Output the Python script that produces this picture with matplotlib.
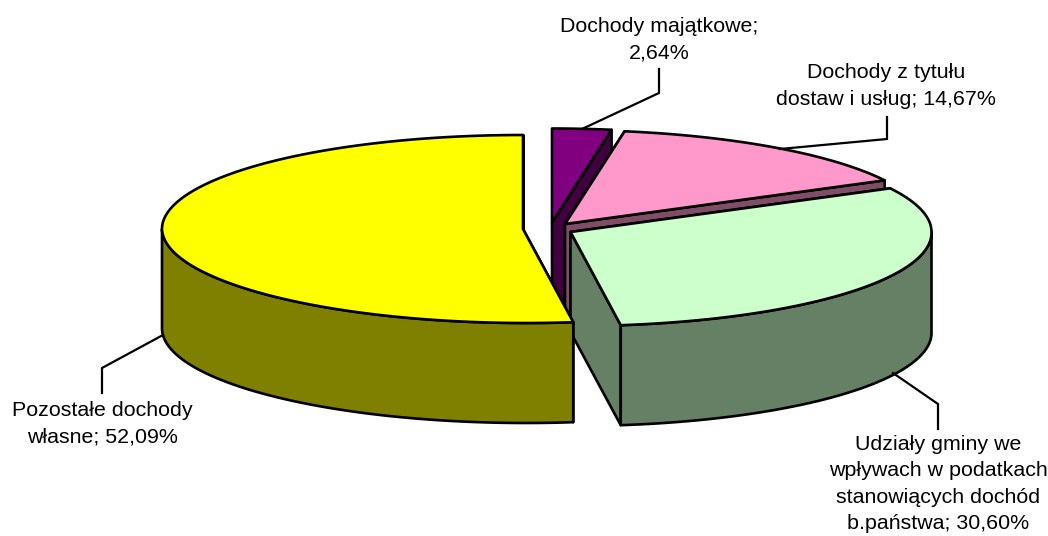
import numpy as np
import matplotlib
matplotlib.use('Agg')
import matplotlib.pyplot as plt
from matplotlib.patches import Polygon

plt.rcParams['font.family'] = ['Liberation Sans', 'DejaVu Sans']

# udzial procentowy, zgodnie z ruchem wskazowek od godziny 12
categories = ['Dochody majątkowe', 'Dochody z tytułu dostaw i usług',
              'Udziały gminy we wpływach w podatkach stanowiących dochód b.państwa',
              'Pozostałe dochody własne']
values = [2.64, 14.67, 30.60, 52.09]

label_texts = ['Dochody majątkowe;\n2,64%',
               'Dochody z tytułu\ndostaw i usług; 14,67%',
               'Udziały gminy we\nwpływach w podatkach\nstanowiących dochód\nb.państwa; 30,60%',
               'Pozostałe dochody\nwłasne; 52,09%']

top_colors = ['#800080', '#FF99CC', '#CCFFCC', '#FFFF00']
side_colors = ['#400040', '#804D66', '#668066', '#808000']

# srodki wycinkow po rozsunieciu (piksele)
centers = [(552, 222.5), (565, 224), (570.5, 232), (523, 229)]
RX, RY = 361, 94
DEPTH = 100
FRONT_SKEW = 3  # dolna polowa elipsy lekko przesunieta w prawo, jak w oryginale

label_pos = [(659, 40), (886, 86), (938, 484), (102, 423.5)]
leaders = [[(582, 129), (659, 93), (659, 69)],
           [(780, 149), (887, 139), (887, 117)],
           [(893, 373), (938, 404), (938, 429)],
           [(163, 335), (102, 368), (102, 393)]]


def rim(center, a0, a1, n=120):
    # punkty na elipsie, kat liczony od gory zgodnie z zegarem
    t = np.radians(np.linspace(a0, a1, n))
    x = center[0] + RX * np.sin(t) + FRONT_SKEW * np.maximum(0, -np.cos(t))
    return np.column_stack([x, center[1] - RY * np.cos(t)])


def draw_slice(ax, center, a0, a1, top, side):
    lw = 1.9
    drop = np.array([0, DEPTH])
    c = np.array(center, dtype=float)
    # sciany promieniowe
    for ang in (a0, a1):
        p = rim(center, ang, ang, 1)[0]
        face = [c, p, p + drop, c + drop]
        ax.add_patch(Polygon(face, closed=True, fc=side, ec='black', lw=lw, joinstyle='round'))
    # sciana boczna, widoczna tylko z przodu (90-270 stopni)
    w0, w1 = max(a0, 90), min(a1, 270)
    if w1 > w0:
        arc = rim(center, w0, w1)
        wall = np.vstack([arc, arc[::-1] + drop])
        ax.add_patch(Polygon(wall, closed=True, fc=side, ec='black', lw=lw, joinstyle='round'))
    arc = rim(center, a0, a1, 240)
    ax.add_patch(Polygon(np.vstack([[c], arc]), closed=True, fc=top, ec='black', lw=lw, joinstyle='round'))


fig = plt.figure(figsize=(10.48, 5.36), dpi=100)
ax = fig.add_axes([0, 0, 1, 1])
ax.set_xlim(0, 1048)
ax.set_ylim(536, 0)
ax.axis('off')

bounds = np.concatenate([[0], np.cumsum(values)]) / sum(values) * 360
for i in range(len(values)):
    draw_slice(ax, centers[i], bounds[i], bounds[i + 1], top_colors[i], side_colors[i])

for pts in leaders:
    xs, ys = zip(*pts)
    ax.plot(xs, ys, color='black', lw=1.6, solid_joinstyle='miter')

for txt, (x, y) in zip(label_texts, label_pos):
    ax.text(x, y, txt, ha='center', va='center', fontsize=15.4, linespacing=1.5, color='black')

fig.savefig('out.png', dpi=100)
plt.close()
